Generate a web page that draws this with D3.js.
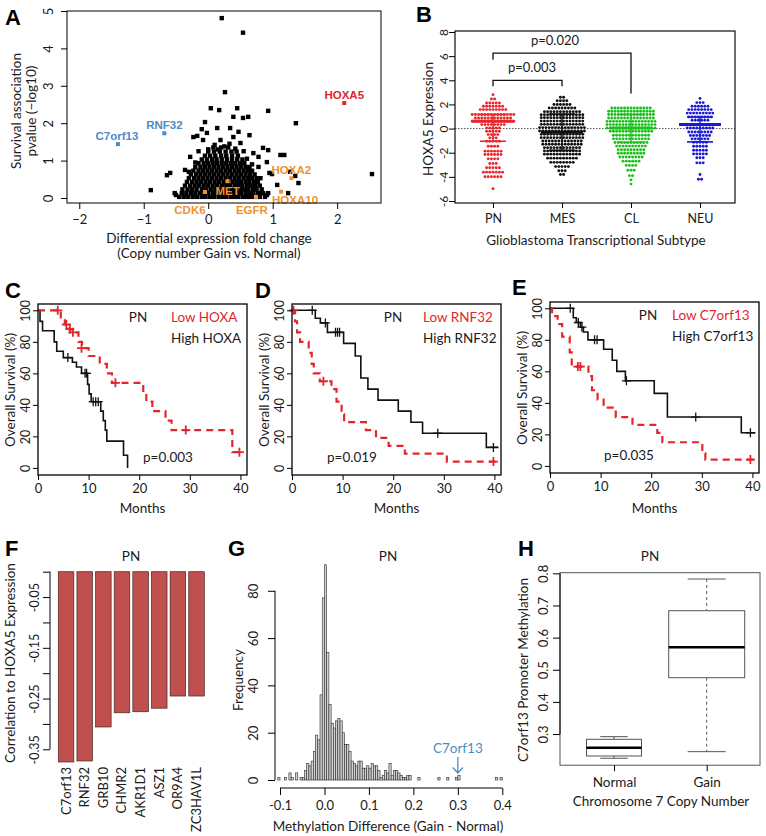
<!DOCTYPE html>
<html>
<head>
<meta charset="utf-8">
<script src="https://cdn.jsdelivr.net/npm/d3@7"></script>
<style>
  body { margin: 0; background: #fff; }
  text { font-family: Lato, "Open Sans", sans-serif; }
  .letter { font-family: "Liberation Sans", Arial, sans-serif; font-weight: bold; font-size: 22px; }
  .gene { font-family: "Liberation Sans", Arial, sans-serif; font-weight: bold; font-size: 11.5px; }
</style>
</head>
<body>
<svg id="fig" width="766" height="836"></svg>
<script>
// ===== A: fold change vs survival p =====
// dense core, one entry per row: [pvalue, [fold changes]]
var blobRows = [
  [0.03, [-0.45,-0.38,-0.31,-0.24,-0.17,-0.1,-0.04,0.03,0.09,0.16,0.22,0.28,0.35,0.41,0.47,0.54,0.6,0.66,0.72,0.8,0.88]],
  [0.13, [-0.52,-0.41,-0.34,-0.27,-0.2,-0.13,-0.06,0.0,0.07,0.13,0.2,0.26,0.32,0.39,0.45,0.51,0.58,0.64,0.7,0.77,0.85,0.93]],
  [0.23, [-0.4,-0.32,-0.25,-0.18,-0.1,-0.03,0.04,0.11,0.18,0.24,0.3,0.37,0.43,0.5,0.56,0.62,0.69,0.75,0.83]],
  [0.33, [-0.36,-0.28,-0.21,-0.14,-0.07,0.0,0.07,0.14,0.21,0.28,0.34,0.41,0.47,0.53,0.6,0.66,0.73,0.8]],
  [0.43, [-0.33,-0.25,-0.18,-0.11,-0.04,0.03,0.1,0.17,0.24,0.31,0.38,0.45,0.51,0.58,0.64,0.71,0.77]],
  [0.53, [-0.3,-0.22,-0.15,-0.08,-0.01,0.06,0.13,0.2,0.27,0.34,0.41,0.48,0.55,0.62,0.68,0.75]],
  [0.63, [-0.27,-0.19,-0.12,-0.05,0.02,0.09,0.16,0.23,0.3,0.37,0.44,0.51,0.58,0.65,0.72]],
  [0.73, [-0.23,-0.15,-0.08,-0.01,0.06,0.13,0.2,0.27,0.34,0.41,0.48,0.55,0.62,0.68]],
  [0.83, [-0.2,-0.12,-0.05,0.02,0.09,0.16,0.23,0.3,0.37,0.44,0.51,0.58,0.64]],
  [0.93, [-0.15,-0.07,0.0,0.07,0.14,0.21,0.28,0.35,0.42,0.49,0.56]],
  [1.03, [-0.1,-0.02,0.06,0.13,0.21,0.29,0.37,0.45,0.53]],
  [1.13, [-0.05,0.03,0.11,0.2,0.28,0.37,0.46]],
  [1.24, [0.0,0.09,0.18,0.27,0.36,0.44]],
  [1.35, [0.08,0.2,0.31]]
];
// scattered genes outside the core: [fold change, pvalue]
var scatterPts = [
  [-0.89,0.21],[-0.64,0.61],[-0.59,0.67],[-0.36,0.75],[-0.5,0.08],[-0.28,1.1],[-0.17,1.66],[-0.23,1.63],
  [-0.05,2.03],[-0.1,1.84],[0.04,2.4],[0.17,2.35],[0.26,2.83],[0.21,4.81],[0.54,4.42],[0.39,2.17],
  [0.45,2.4],[0.62,2.17],[0.54,2.14],[0.64,1.68],[0.34,1.87],[0.14,1.87],[-0.02,1.74],[-0.08,1.55],
  [0.19,1.55],[0.39,1.63],[0.47,1.77],[0.5,1.47],[0.93,2.33],[1.36,2.0],[2.54,0.64],[0.85,1.34],
  [0.93,1.28],[1.12,1.15],[1.18,1.15],[0.91,0.96],[0.95,0.67],[0.99,0.64],[0.78,0.83],[1.07,0.35],
  [1.35,0.59],[1.27,0.7],[1.4,0.4],[0.81,0.13],[0.91,0.08],[1.24,0.13],[0.78,1.1],[0.81,0.53],
  [0.73,0.35],[-0.2,0.95],[0.0,1.3],[0.1,1.42],[0.25,1.38],[0.33,1.45],[0.55,1.25],[0.6,1.05],
  [0.68,0.9],[0.7,1.2],[-0.3,0.7],[-0.15,1.25],[0.42,1.32],[0.15,1.3]
];
var geneNames = ["HOXA5", "C7orf13", "RNF32", "MET", "CDK6", "EGFR", "HOXA2", "HOXA10"];
var geneFC    = [2.11, -1.40, -0.68, 0.30, -0.05, 0.74, 1.29, 1.13];
var genePval  = [2.54, 1.44, 1.73, 0.45, 0.16, 0.03, 0.53, 0.17];
var geneKind  = ["up", "down", "down", "cnv", "cnv", "cnv", "cnv", "cnv"];

// ===== B: HOXA5 expression by subtype, dot rows [value, count] =====
var subtypes = ["PN", "MES", "CL", "NEU"];
var pnRows = [[2.81,1],[2.45,2],[2.12,5],[1.85,7],[1.57,9],[1.16,14],[0.88,12],[0.61,14],[0.33,8],[0.06,5],
  [-0.22,5],[-0.5,4],[-0.77,3],[-1.05,5],[-1.46,4],[-1.87,6],[-2.15,6],[-2.51,4],[-2.89,3],[-3.25,5],
  [-3.61,7],[-3.99,6],[-4.99,1]];
var mesRows = [[2.6,2],[2.3,4],[2.0,6],[1.7,9],[1.4,12],[1.15,14],[0.9,14],[0.62,14],[0.35,14],[0.08,15],
  [-0.2,15],[-0.48,14],[-0.75,14],[-1.03,13],[-1.3,13],[-1.58,12],[-1.85,12],[-2.12,12],[-2.45,10],
  [-2.8,8],[-3.15,5],[-3.5,3],[-3.8,2]];
var clRows = [[1.7,13],[1.43,15],[1.16,15],[0.88,15],[0.6,16],[0.33,16],[0.05,16],[-0.22,14],[-0.55,12],
  [-0.85,12],[-1.15,11],[-1.45,10],[-1.75,9],[-2.05,9],[-2.35,8],[-2.7,6],[-3.05,4],[-3.45,3],[-3.9,2],
  [-4.25,1],[-4.6,1]];
var neuRows = [[2.5,1],[2.15,3],[1.85,6],[1.57,8],[1.28,9],[0.96,8],[0.69,6],[0.33,10],[0.05,9],[-0.28,8],
  [-0.58,7],[-0.85,6],[-1.13,5],[-1.46,5],[-1.8,5],[-2.1,5],[-2.42,3],[-2.84,3],[-3.8,1],[-4.2,2]];
var subtypeMean = [0.6, -0.3, 0.05, 0.33];
var subtypeSdHi = [1.16, 1.2, 1.16, 0.96];
var subtypeSdLo = [-1.05, -1.8, -1.15, -1.1];
var compareLabels = ["p=0.003", "p=0.020"];

// ===== C-E: Kaplan-Meier curves (months, % surviving) =====
var kmGenes = ["HOXA", "RNF32", "C7orf13"];
var kmPvalues = ["p=0.003", "p=0.019", "p=0.035"];
var kmC_lowT = [0, 4.5, 5.3, 6.1, 6.8, 8.0, 8.7, 10.0, 12.2, 13.6, 14.6, 20.8, 21.4, 22.6, 25.2, 26.4, 38.4];
var kmC_lowS = [100, 94, 91, 88, 86, 80, 76, 71, 66, 60, 54, 48, 42, 36, 30, 24, 10];
var kmC_lowCens = [[3.9,100],[5.6,91],[6.3,88],[6.9,86],[8.6,76],[15.3,54],[29.2,24],[39.8,10]];
var kmC_highT = [0, 0.4, 0.9, 3.2, 3.7, 5.0, 6.8, 7.6, 8.6, 9.8, 10.1, 10.5, 12.4, 12.9, 13.3, 13.6, 16.9, 17.7];
var kmC_highS = [100, 93, 87, 80, 74, 70, 67, 64, 60, 53, 47, 42, 36, 30, 24, 17, 8, 0];
var kmC_highCens = [[5.9,70],[9.3,60],[9.6,60],[10.9,42],[11.4,42],[11.9,42]];

var kmD_lowT = [0, 0.6, 1.0, 1.6, 3.3, 3.9, 4.3, 5.5, 7.8, 8.8, 9.8, 10.3, 14.6, 16.6, 19.1, 22.3, 30.6];
var kmD_lowS = [100, 93, 86, 80, 73, 66, 60, 55, 50, 42, 34, 29, 24, 19, 14, 9, 4];
var kmD_lowCens = [[0.3,100],[6.2,55],[39.8,4]];
var kmD_highT = [0, 4.6, 5.6, 7.0, 10.2, 12.5, 13.6, 15.0, 17.0, 21.0, 23.5, 25.8, 38.4];
var kmD_highS = [100, 95, 92, 86, 79, 71, 57, 50, 43, 36, 29, 22, 13];
var kmD_highCens = [[4.0,100],[6.6,92],[8.6,86],[9.0,86],[9.4,86],[28.8,22],[39.8,13]];

var kmE_lowT = [0, 0.4, 1.5, 2.4, 3.9, 4.3, 7.6, 8.3, 9.4, 10.6, 13.0, 16.3, 21.2, 22.2, 30.1, 30.7];
var kmE_lowS = [100, 95, 90, 82, 72, 63, 57, 48, 42, 37, 31, 26, 21, 15, 8, 4];
var kmE_lowCens = [[5.5,63],[6.0,63],[39.6,4]];
var kmE_highT = [0, 4.6, 5.2, 6.0, 6.6, 7.5, 10.6, 12.3, 13.2, 14.9, 20.6, 23.2, 37.8];
var kmE_highS = [100, 94, 91, 88, 85, 80, 74, 67, 60, 54, 46, 31, 21];
var kmE_highCens = [[4.0,100],[5.6,91],[6.3,88],[8.8,80],[9.3,80],[15.1,54],[28.8,31],[39.6,21]];

// ===== F: correlation to HOXA5 =====
var corrGenes = ["C7orf13", "RNF32", "GRB10", "CHMR2", "AKR1D1", "ASZ1", "OR9A4", "ZC3HAV1L"];
var corrValues = [-0.375, -0.373, -0.306, -0.278, -0.276, -0.269, -0.245, -0.245];
var corrTicks = [0, -0.05, -0.1, -0.15, -0.2, -0.25, -0.3, -0.35];
var corrTickLabels = ["", "-0.05", "", "-0.15", "", "-0.25", "", "-0.35"];

// ===== G: methylation difference histogram (bin start, count), bin width 0.005 =====
var binStart = [-0.105,-0.09,-0.08,-0.075,-0.065,-0.055,-0.05,-0.045,-0.04,-0.035,-0.03,-0.025,-0.02,-0.015,
  -0.01,-0.005,0.0,0.005,0.01,0.015,0.02,0.025,0.03,0.035,0.04,0.045,0.05,0.055,0.06,0.065,0.07,0.075,0.08,
  0.085,0.09,0.095,0.1,0.105,0.11,0.115,0.12,0.125,0.13,0.135,0.14,0.145,0.15,0.155,0.16,0.165,0.17,0.175,
  0.18,0.185,0.19,0.21,0.255,0.275,0.295,0.3,0.385,0.395];
var binCount = [1,1,3,1,3,1,1,4,7,6,8,12,19,17,
  36,77,91,54,32,24,22,25,26,25,20,15,15,12,8,7,6,8,8,
  5,5,6,5,7,6,6,4,1,2,4,3,7,2,4,4,3,2,1,
  1,2,2,1,1,1,1,2,1,1];
var binWidth = 0.005;

// ===== H: C7orf13 promoter methylation by copy number =====
var cnGroups = ["Normal", "Gain"];
var cnMin = [0.2246, 0.2451];
var cnQ1 = [0.2317, 0.4753];
var cnMed = [0.2575, 0.5698];
var cnQ3 = [0.2836, 0.6837];
var cnMax = [0.2918, 0.7823];

// ---------- drawing ----------
var svg = d3.select("#fig");
svg.append("rect").attr("width", 766).attr("height", 836).attr("fill", "#fff");

var RED = "#e3262b", BLUE = "#4a8cc6", ORANGE = "#f0922e";

function letter(t, x, y) {
  svg.append("text").attr("class", "letter").attr("x", x).attr("y", y).text(t);
}
function label(g, t, x, y, size, anchor, color) {
  return g.append("text").attr("x", x).attr("y", y).attr("text-anchor", anchor || "middle")
    .style("font-size", size + "px").style("fill", color || "#1a1a1a").text(t);
}
function vlabel(g, t, x, y, size) {
  return g.append("text").attr("transform", "translate(" + x + "," + y + ") rotate(-90)")
    .attr("text-anchor", "middle").style("font-size", size + "px").style("fill", "#1a1a1a").text(t);
}
function cleanAxis(a, size) {
  a.select(".domain").remove();
  a.selectAll(".tick line").attr("stroke", "#000");
  a.selectAll(".tick text").style("font-size", size + "px").style("fill", "#1a1a1a");
  return a;
}
function rotateTicks(a, dist) {
  a.selectAll(".tick text").attr("x", null).attr("dy", null)
    .attr("transform", "translate(" + (-dist) + ",0) rotate(-90)")
    .attr("text-anchor", "middle");
}
function frame(g, x0, y0, x1, y1, color, w) {
  g.append("rect").attr("x", x0).attr("y", y0).attr("width", x1 - x0).attr("height", y1 - y0)
    .attr("fill", "none").attr("stroke", color).attr("stroke-width", w);
}

// ----- A -----
var gA = svg.append("g");
var xA = d3.scaleLinear().domain([-2.19, 2.68]).range([67, 381]);
var yA = d3.scaleLinear().domain([-0.134, 5]).range([203, 11]);
var blobPts = [];
blobRows.forEach(function (r) { r[1].forEach(function (x) { blobPts.push([x, r[0]]); }); });
gA.selectAll("rect.pt").data(blobPts.concat(scatterPts)).join("rect").attr("class", "pt")
  .attr("x", function (d) { return xA(d[0]) - 2.2; }).attr("y", function (d) { return yA(d[1]) - 2.2; })
  .attr("width", 4.4).attr("height", 4.4).attr("fill", "#000");

var kindColor = { up: RED, down: BLUE, cnv: ORANGE };
// label placement relative to each point (pixels)
var geneLabelPos = [[0,-4],[-1,-4],[0,-4],[0,14],[-15,22],[-4,17.5],[0,-4],[14,12.5]];
gA.selectAll("rect.hl").data(geneNames).join("rect").attr("class", "hl")
  .attr("x", function (d, i) { return xA(geneFC[i]) - 2; }).attr("y", function (d, i) { return yA(genePval[i]) - 2; })
  .attr("width", 4).attr("height", 4).attr("fill", function (d, i) { return kindColor[geneKind[i]]; });
gA.selectAll("text.gene").data(geneNames).join("text").attr("class", "gene")
  .attr("x", function (d, i) { return xA(geneFC[i]) + geneLabelPos[i][0]; })
  .attr("y", function (d, i) { return yA(genePval[i]) + geneLabelPos[i][1]; })
  .attr("text-anchor", "middle").style("fill", function (d, i) { return kindColor[geneKind[i]]; })
  .text(function (d) { return d; });

frame(gA, 67, 11, 381, 203, "#000", 1);
var axA = gA.append("g").attr("transform", "translate(0,203)")
  .call(d3.axisBottom(xA).tickValues([-2, -1, 0, 1, 2]).tickFormat(d3.format("d")).tickSize(6).tickPadding(6));
cleanAxis(axA, 13);
var ayA = gA.append("g").attr("transform", "translate(67,0)")
  .call(d3.axisLeft(yA).tickValues([0, 1, 2, 3, 4, 5]).tickFormat(d3.format("d")).tickSize(6));
cleanAxis(ayA, 13); rotateTicks(ayA, 14);
vlabel(gA, "Survival association", 21, 111, 13.5);
vlabel(gA, "pvalue (\u2212log10)", 36, 111, 13.5);
label(gA, "Differential expression fold change", 209, 243, 13.5);
label(gA, "(Copy number Gain vs. Normal)", 209, 258, 13.5);
letter("A", 5, 25);

// ----- B -----
var gB = svg.append("g");
var xB = d3.scalePoint().domain(subtypes).range([493, 700]);
var yB = d3.scaleLinear().domain([-6, 8]).range([201, 32]);
var subtypeColors = ["#e8262b", "#111111", "#1fbf1f", "#1a1ad6"];
var allRows = [pnRows, mesRows, clRows, neuRows];
var dots = [];
allRows.forEach(function (rows, k) {
  rows.forEach(function (r) {
    for (var i = 0; i < r[1]; i++) {
      dots.push({ x: xB(subtypes[k]) + (i - (r[1] - 1) / 2) * 3.2, v: r[0], k: k });
    }
  });
});
gB.append("line").attr("x1", 455).attr("x2", 735).attr("y1", yB(0)).attr("y2", yB(0))
  .attr("stroke", "#555").attr("stroke-dasharray", "1.5,1.5").attr("stroke-width", 1);
gB.selectAll("circle").data(dots).join("circle")
  .attr("cx", function (d) { return d.x; }).attr("cy", function (d) { return yB(d.v); })
  .attr("r", 1.45).attr("fill", function (d) { return subtypeColors[d.k]; });
subtypes.forEach(function (s, k) {
  var cx = xB(s), c = subtypeColors[k];
  gB.append("line").attr("x1", cx).attr("x2", cx).attr("y1", yB(subtypeSdHi[k])).attr("y2", yB(subtypeSdLo[k]))
    .attr("stroke", c).attr("stroke-width", 1.4);
  gB.append("line").attr("x1", cx - 21).attr("x2", cx + 21).attr("y1", yB(subtypeMean[k])).attr("y2", yB(subtypeMean[k]))
    .attr("stroke", c).attr("stroke-width", 3);
  [subtypeSdHi[k], subtypeSdLo[k]].forEach(function (v) {
    gB.append("line").attr("x1", cx - 13).attr("x2", cx + 13).attr("y1", yB(v)).attr("y2", yB(v))
      .attr("stroke", c).attr("stroke-width", 1.6);
  });
});
frame(gB, 455, 31, 735, 203, "#222", 1.3);
var axB = gB.append("g").attr("transform", "translate(0,203)")
  .call(d3.axisBottom(xB).tickSize(5).tickPadding(6));
cleanAxis(axB, 12.5);
var ayB = gB.append("g").attr("transform", "translate(455,0)")
  .call(d3.axisLeft(yB).tickValues([-6, -4, -2, 0, 2, 4, 6, 8]).tickFormat(function (d) { return String(d); }).tickSize(6));
cleanAxis(ayB, 12); rotateTicks(ayB, 7);
// significance brackets
var brk = [
  { a: "PN", b: "MES", top: 4, la: 3.5, lb: 3.5, tx: 532 },
  { a: "PN", b: "CL", top: 6.25, la: 5.7, lb: 2.9, tx: 555 }
];
brk.forEach(function (d, i) {
  var path = "M" + xB(d.a) + "," + yB(d.la) + "V" + yB(d.top) + "H" + xB(d.b) + "V" + yB(d.lb);
  gB.append("path").attr("d", path).attr("fill", "none").attr("stroke", "#111").attr("stroke-width", 1.3);
  label(gB, compareLabels[i], d.tx, yB(d.top) - 8, 13);
});
vlabel(gB, "HOXA5 Expression", 433, 119, 13.5);
label(gB, "Glioblastoma Transcriptional Subtype", 596, 245, 13.5);
letter("B", 416, 22);

// ----- C, D, E -----
var kmSets = [
  { left: 38, top: 304, L: "C", lx: 5, ly: 298, lowT: kmC_lowT, lowS: kmC_lowS, lowEnd: 40, lowC: kmC_lowCens,
    highT: kmC_highT, highS: kmC_highS, highEnd: 17.7, highC: kmC_highCens, pnX: 100, legX: 133, pX: 130 },
  { left: 292, top: 304, L: "D", lx: 255, ly: 298, lowT: kmD_lowT, lowS: kmD_lowS, lowEnd: 40.8, lowC: kmD_lowCens,
    highT: kmD_highT, highS: kmD_highS, highEnd: 40.8, highC: kmD_highCens, pnX: 101, legX: 131, pX: 60 },
  { left: 550, top: 302, L: "E", lx: 512, ly: 295, lowT: kmE_lowT, lowS: kmE_lowS, lowEnd: 40.6, lowC: kmE_lowCens,
    highT: kmE_highT, highS: kmE_highS, highEnd: 40.6, highC: kmE_highCens, pnX: 98, legX: 122, pX: 79 }
];
kmSets.forEach(function (p, k) {
  var g = svg.append("g");
  var W = 209, H = 171;
  var x = d3.scaleLinear().domain([0, 41.3]).range([p.left, p.left + W]);
  var y = d3.scaleLinear().domain([-4.5, 104]).range([p.top + H, p.top]);
  var step = d3.line().curve(d3.curveStepAfter).x(function (d) { return x(d[0]); }).y(function (d) { return y(d[1]); });
  function pts(T, S, end) {
    var a = T.map(function (t, i) { return [t, S[i]]; });
    a.push([end, S[S.length - 1]]);
    return a;
  }
  function cross(d) {
    var cx = x(d[0]), cy = y(d[1]);
    return "M" + (cx - 4.5) + "," + cy + "H" + (cx + 4.5) + "M" + cx + "," + (cy - 4.5) + "V" + (cy + 4.5);
  }
  g.append("path").datum(pts(p.highT, p.highS, p.highEnd)).attr("d", step)
    .attr("fill", "none").attr("stroke", "#111").attr("stroke-width", 1.6);
  g.selectAll("path.hc").data(p.highC).join("path").attr("class", "hc").attr("d", cross)
    .attr("stroke", "#111").attr("stroke-width", 1.3);
  g.append("path").datum(pts(p.lowT, p.lowS, p.lowEnd)).attr("d", step)
    .attr("fill", "none").attr("stroke", RED).attr("stroke-width", 2.2).attr("stroke-dasharray", "7,5");
  g.selectAll("path.lc").data(p.lowC).join("path").attr("class", "lc").attr("d", cross)
    .attr("stroke", RED).attr("stroke-width", 1.8);
  frame(g, p.left, p.top, p.left + W, p.top + H, "#000", 1.3);
  var ax = g.append("g").attr("transform", "translate(0," + (p.top + H) + ")")
    .call(d3.axisBottom(x).tickValues([0, 10, 20, 30, 40]).tickSize(5).tickPadding(4));
  cleanAxis(ax, 13);
  var ay = g.append("g").attr("transform", "translate(" + p.left + ",0)")
    .call(d3.axisLeft(y).tickValues([0, 20, 40, 60, 80, 100]).tickSize(5));
  cleanAxis(ay, 12.5); rotateTicks(ay, 8);
  vlabel(g, "Overall Survival (%)", p.left - 23, p.top + 86, 13.5);
  label(g, "Months", p.left + W / 2, 513, 13.5);
  label(g, "PN", p.left + p.pnX, p.top + 18, 13.5);
  label(g, "Low " + kmGenes[k], p.left + p.legX, p.top + 18, 13.5, "start", RED);
  label(g, "High " + kmGenes[k], p.left + p.legX, p.top + 39, 13.5, "start");
  label(g, kmPvalues[k], p.left + p.pX, p.top + 158, 13.5);
  letter(p.L, p.lx, p.ly);
});

// ----- F -----
var gF = svg.append("g");
var xF = d3.scaleBand().domain(corrGenes).range([58.3, 204.3]).paddingInner(0.1667).paddingOuter(0);
var yF = d3.scaleLinear().domain([0, -0.35]).range([571.7, 749.3]);
gF.selectAll("rect").data(corrValues).join("rect")
  .attr("x", function (d, i) { return xF(corrGenes[i]); }).attr("width", xF.bandwidth())
  .attr("y", yF(0)).attr("height", function (d) { return yF(d) - yF(0); })
  .attr("fill", "#c0504d").attr("stroke", "#4a2220").attr("stroke-width", 0.7);
var ayF = gF.append("g").attr("transform", "translate(50,0)")
  .call(d3.axisLeft(yF).tickValues(corrTicks).tickFormat(function (d, i) { return corrTickLabels[i]; }).tickSize(7));
cleanAxis(ayF, 12.5); rotateTicks(ayF, 11);
gF.append("line").attr("x1", 50).attr("x2", 50).attr("y1", yF(0)).attr("y2", yF(-0.35)).attr("stroke", "#000");
corrGenes.forEach(function (gname) {
  var cx = xF(gname) + xF.bandwidth() / 2;
  gF.append("text").attr("transform", "translate(" + (cx + 4.5) + ",767) rotate(-90)")
    .attr("text-anchor", "end").style("font-size", "13px").style("fill", "#1a1a1a").text(gname);
});
vlabel(gF, "Correlation to HOXA5 Expression", 15, 663, 13.5);
label(gF, "PN", 131, 561, 13.5);
letter("F", 5, 556);

// ----- G -----
var gG = svg.append("g");
var xG = d3.scaleLinear().domain([-0.1, 0.4]).range([280, 502.3]);
var yG = d3.scaleLinear().domain([0, 80]).range([780, 590.8]);
gG.selectAll("rect").data(binCount).join("rect")
  .attr("x", function (d, i) { return xG(binStart[i]); })
  .attr("width", function (d, i) { return xG(binStart[i] + binWidth) - xG(binStart[i]); })
  .attr("y", function (d) { return yG(d); }).attr("height", function (d) { return yG(0) - yG(d); })
  .attr("fill", "#d2d2d2").attr("stroke", "#2a2a2a").attr("stroke-width", 0.6);
var ayG = gG.append("g").attr("transform", "translate(275,0)")
  .call(d3.axisLeft(yG).tickValues([0, 20, 40, 60, 80]).tickSize(7));
cleanAxis(ayG, 13); rotateTicks(ayG, 17);
gG.append("line").attr("x1", 275).attr("x2", 275).attr("y1", yG(0)).attr("y2", yG(80)).attr("stroke", "#000");
var axG = gG.append("g").attr("transform", "translate(0,788)")
  .call(d3.axisBottom(xG).tickValues([-0.1, 0, 0.1, 0.2, 0.3, 0.4]).tickFormat(function (d) { return d.toFixed(1); }).tickSize(7).tickPadding(6));
cleanAxis(axG, 13);
gG.append("line").attr("x1", xG(-0.1)).attr("x2", xG(0.4)).attr("y1", 788).attr("y2", 788).attr("stroke", "#000");
// C7orf13 marker
var mX = xG(0.3);
label(gG, "C7orf13", mX, 752.5, 13.5, "middle", BLUE);
gG.append("path").attr("d", "M" + mX + ",757V773M" + (mX - 5) + ",767.5L" + mX + ",773L" + (mX + 5) + ",767.5")
  .attr("fill", "none").attr("stroke", BLUE).attr("stroke-width", 1.3);
vlabel(gG, "Frequency", 243, 680, 13.5);
label(gG, "Methylation Difference (Gain - Normal)", 388, 831, 13.5);
label(gG, "PN", 388, 561, 13.5);
letter("G", 228, 556);

// ----- H -----
var gH = svg.append("g");
var xH = d3.scaleLinear().domain([1, 2]).range([614, 706.7]);
var yH = d3.scaleLinear().domain([0.203, 0.802]).range([765.2, 572.7]);
var boxW = [55, 76];
cnGroups.forEach(function (name, i) {
  var cx = xH(i + 1), hw = boxW[i] / 2, cap = boxW[i] / 4;
  gH.append("line").attr("x1", cx).attr("x2", cx).attr("y1", yH(cnMax[i])).attr("y2", yH(cnQ3[i]))
    .attr("stroke", "#555").attr("stroke-dasharray", "3,3");
  gH.append("line").attr("x1", cx).attr("x2", cx).attr("y1", yH(cnQ1[i])).attr("y2", yH(cnMin[i]))
    .attr("stroke", "#555").attr("stroke-dasharray", "3,3");
  [cnMax[i], cnMin[i]].forEach(function (v) {
    gH.append("line").attr("x1", cx - cap).attr("x2", cx + cap).attr("y1", yH(v)).attr("y2", yH(v))
      .attr("stroke", "#555").attr("stroke-width", 1);
  });
  gH.append("rect").attr("x", cx - hw).attr("width", hw * 2).attr("y", yH(cnQ3[i]))
    .attr("height", yH(cnQ1[i]) - yH(cnQ3[i])).attr("fill", "#fff").attr("stroke", "#555").attr("stroke-width", 1);
  gH.append("line").attr("x1", cx - hw).attr("x2", cx + hw).attr("y1", yH(cnMed[i])).attr("y2", yH(cnMed[i]))
    .attr("stroke", "#000").attr("stroke-width", 2.6);
});
frame(gH, 560, 572.7, 760, 765.2, "#555", 1);
var ayH = gH.append("g").attr("transform", "translate(560,0)")
  .call(d3.axisLeft(yH).tickValues([0.3, 0.4, 0.5, 0.6, 0.7, 0.8]).tickFormat(function (d) { return d.toFixed(1); }).tickSize(7));
cleanAxis(ayH, 13); rotateTicks(ayH, 12);
gH.append("line").attr("x1", 560).attr("x2", 560).attr("y1", yH(0.3)).attr("y2", yH(0.8)).attr("stroke", "#000");
var axH = gH.append("g").attr("transform", "translate(0,765.2)")
  .call(d3.axisBottom(xH).tickValues([1, 2]).tickFormat(function (d) { return cnGroups[d - 1]; }).tickSize(6).tickPadding(6));
cleanAxis(axH, 13.5);
vlabel(gH, "C7orf13 Promoter Methylation", 528, 670, 13.5);
label(gH, "Chromosome 7 Copy Number", 661, 806, 13.5);
label(gH, "PN", 650, 561, 13.5);
letter("H", 518, 556);
</script>
</body>
</html>
